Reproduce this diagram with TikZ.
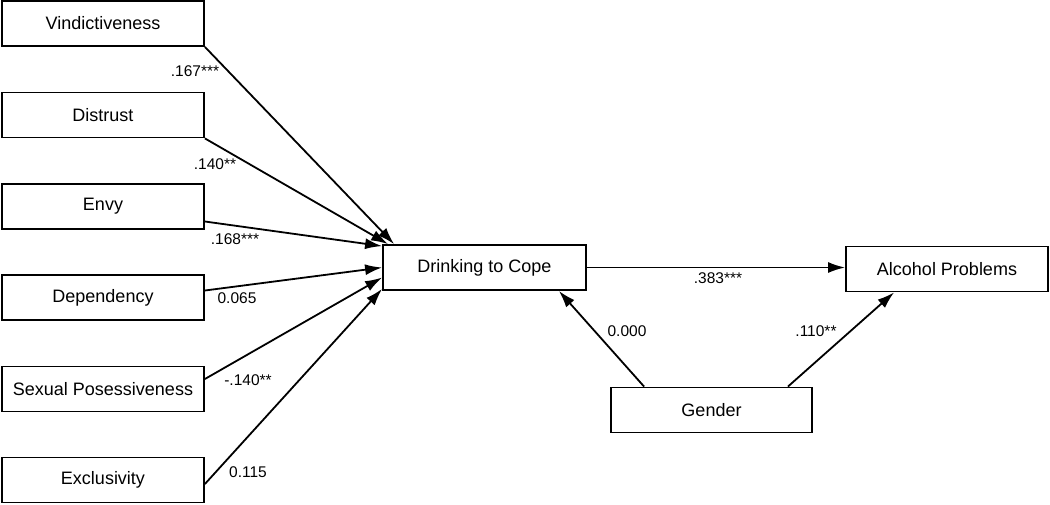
\documentclass[tikz,border=0pt]{standalone}
\usepackage{fontspec}
\setmainfont{Liberation Sans}
\usetikzlibrary{arrows.meta,calc}
\begin{document}
\begin{tikzpicture}[x=1pt,y=-1pt,
  box/.style={draw=black,line width=1.8pt,rectangle,minimum width=202pt,minimum height=45pt,inner sep=0pt,font=\fontsize{18}{21}\selectfont},
  lab/.style={inner sep=0pt,font=\fontsize{15.5}{18}\selectfont},
  path/.style={line width=1.8pt,-{Latex[length=17pt,width=11pt]}}]
\useasboundingbox (0,0) rectangle (1050,504);
\node[box] (v) at (103,23.5) {Vindictiveness};
\node[box] (d) at (103,115) {Distrust};
\node[box] (e) at (103,206.5) {Envy};
\node[box] (dep) at (103,297.5) {Dependency};
\node[box] (sp) at (103,389) {Sexual Posessiveness};
\node[box] (ex) at (103,480) {Exclusivity};
\node[box,minimum width=203pt] (dc) at (484.5,267.5) {Drinking to Cope};
\node[box] (ap) at (947,269) {Alcohol Problems};
\node[box,minimum width=201pt] (g) at (711.5,410) {Gender};

\draw[path] (v.south east) -- ($(dc.north west)+(12,0)$);
\draw[path] (d.south east) -- ($(dc.north west)+(6,0)$);
\draw[path] ($(e.east)+(0,15)$) -- ($(dc.north west)+(0,2)$);
\draw[path] ($(dep.east)+(0,-7)$) -- (dc.west);
\draw[path] ($(sp.east)+(0,-10)$) -- ($(dc.west)+(0,10)$);
\draw[path] ($(ex.east)+(0,4)$) -- ($(dc.south west)+(0,-2)$);
\draw[path] (dc.east) -- (dc.east -| ap.west);
\draw[path] ($(g.north west)+(34,0)$) -- ($(dc.south east)+(-28,0)$);
\draw[path] ($(g.north east)+(-25,0)$) -- ($(ap.south west)+(49,0)$);

\node[lab] (l1) at (195,71) {.167***};
\node[lab] (l2) at (215,164) {.140**};
\node[lab] (l3) at (235,239) {.168***};
\node[lab] (l4) at (237,298) {0.065};
\node[lab] (l5) at (248,380) {-.140**};
\node[lab] (l6) at (248,472) {0.115};
\node[lab] (l7) at (718,278) {.383***};
\node[lab] (l8) at (627,331) {0.000};
\node[lab] (l9) at (816,331) {.110**};
\end{tikzpicture}
\end{document}
